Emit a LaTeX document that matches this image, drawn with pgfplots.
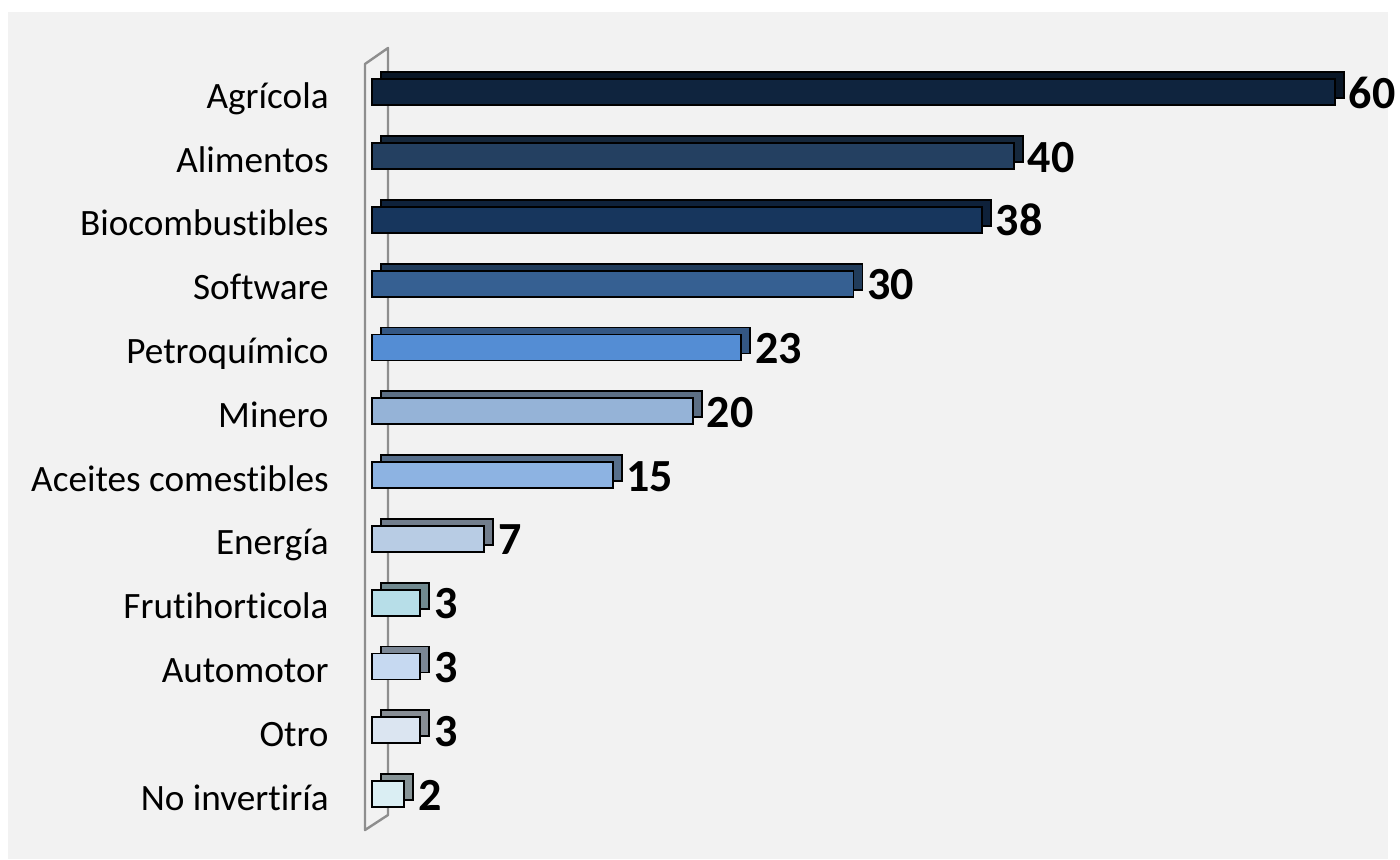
\documentclass[border=0pt]{standalone}
\usepackage{fontspec}
\setmainfont{Carlito}[Ligatures={NoCommon,NoRare}]
\usepackage{pgfplots}
\pgfplotsset{compat=1.18}

\definecolor{panel}{HTML}{F2F2F2}
\definecolor{wall}{HTML}{8E8E8E}
\definecolor{cAgr}{HTML}{0F243E}
\definecolor{cAli}{HTML}{244061}
\definecolor{cBio}{HTML}{17365D}
\definecolor{cSof}{HTML}{366092}
\definecolor{cPet}{HTML}{548DD4}
\definecolor{cMin}{HTML}{95B3D7}
\definecolor{cAce}{HTML}{8DB3E2}
\definecolor{cEne}{HTML}{B8CCE4}
\definecolor{cFru}{HTML}{B7DEE8}
\definecolor{cAut}{HTML}{C6D9F1}
\definecolor{cOtr}{HTML}{DBE5F1}
\definecolor{cNoi}{HTML}{DAEEF3}

% one 3d bar: value, row, colour
\newcommand{\bbar}[3]{%
  \addplot[xbar, bar shift=3.5pt, xshift=4.5pt, fill=#3!62!black, draw=black, line width=0.9pt]
    coordinates {(#1,#2)};
  \addplot[xbar, bar shift=0pt, fill=#3, draw=black, line width=0.9pt, nodes near coords]
    coordinates {(#1,#2)};
}

\begin{document}
\begin{tikzpicture}
\fill[white] (0,0) rectangle (700pt,429.5pt);
\fill[panel] (4pt,0) rectangle (694pt,423.5pt);
% side wall
\draw[wall, line width=1.2pt, line join=round]
  (182.5pt,14.5pt) -- (182.5pt,397.5pt) -- (194pt,405.5pt) -- (194pt,22pt) -- cycle;
\begin{axis}[
    at={(186pt,16.5pt)}, anchor=south west,
    scale only axis,
    width=481.5pt, height=382.8pt,
    xmin=0, xmax=60, ymin=-0.5, ymax=11.5,
    clip=false,
    axis line style={draw=none},
    xtick=\empty,
    ytick={0,...,11},
    major tick length=0pt,
    yticklabels={No invertiría,Otro,Automotor,Frutihorticola,Energía,Aceites comestibles,Minero,Petroquímico,Software,Biocombustibles,Alimentos,Agrícola},
    yticklabel style={anchor=base east, inner sep=0pt, xshift=-21.5pt, yshift=-8pt, font=\fontsize{18.6}{20}\selectfont},
    bar width=13pt,
    /pgf/number format/assume math mode=true,
    every node near coord/.append style={anchor=base west, inner sep=0pt, xshift=6.5pt, yshift=-8pt,
      font=\fontsize{23}{25}\selectfont\bfseries, text=black},
]
\bbar{60}{11}{cAgr}
\bbar{40}{10}{cAli}
\bbar{38}{9}{cBio}
\bbar{30}{8}{cSof}
\bbar{23}{7}{cPet}
\bbar{20}{6}{cMin}
\bbar{15}{5}{cAce}
\bbar{7}{4}{cEne}
\bbar{3}{3}{cFru}
\bbar{3}{2}{cAut}
\bbar{3}{1}{cOtr}
\bbar{2}{0}{cNoi}
\end{axis}
\end{tikzpicture}
\end{document}
